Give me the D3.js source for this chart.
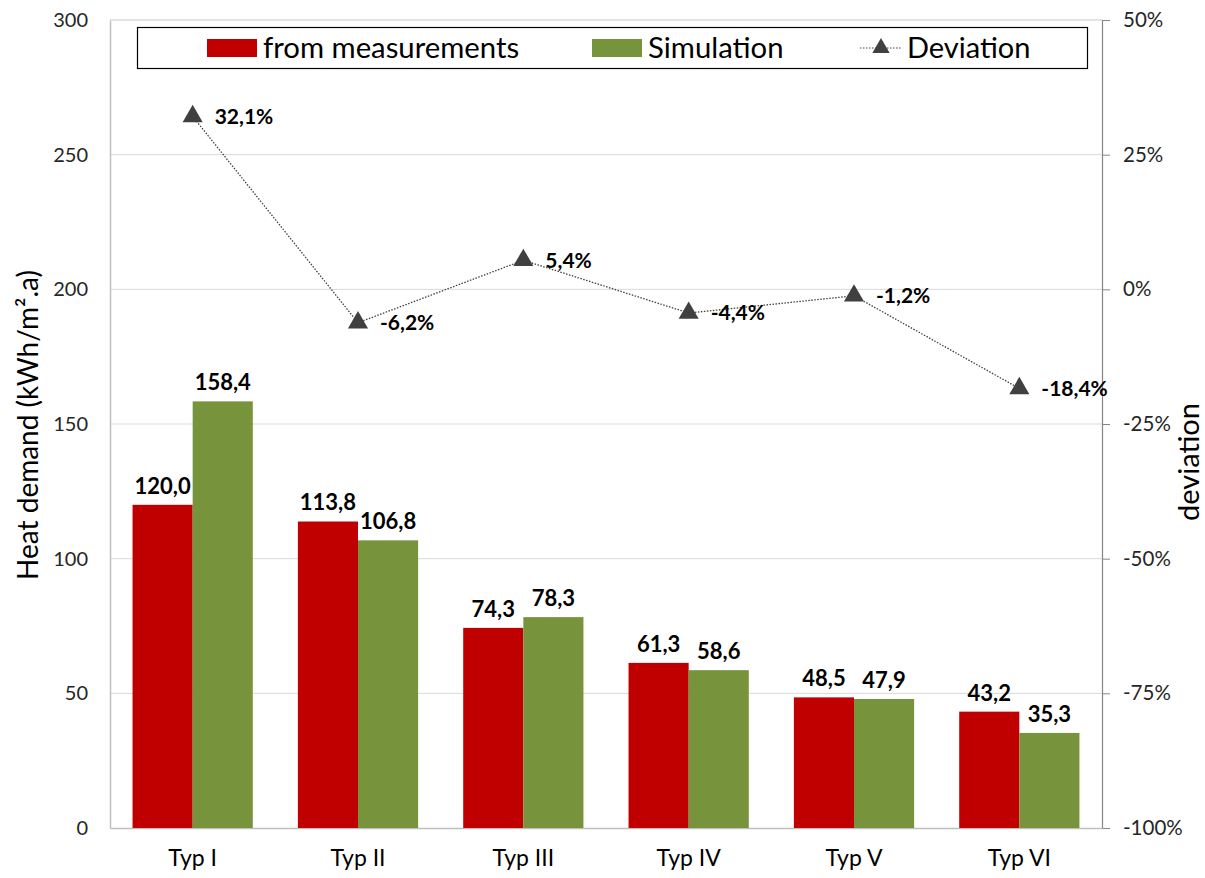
<!DOCTYPE html>
<html>
<head>
<meta charset="utf-8">
<script src="https://cdn.jsdelivr.net/npm/d3@7"></script>
<style>
  html, body { margin: 0; padding: 0; background: #fff; }
  svg { display: block; font-family: Lato, "Open Sans", sans-serif; }
</style>
</head>
<body>
<svg id="chart" width="1205" height="878"></svg>
<script>
// Heat demand per building type: measured vs. simulated, plus relative deviation
const categories = ["Typ I", "Typ II", "Typ III", "Typ IV", "Typ V", "Typ VI"];
const measured   = [120.0, 113.8, 74.3, 61.3, 48.5, 43.2];
const simulated  = [158.4, 106.8, 78.3, 58.6, 47.9, 35.3];
const deviation  = [32.1, -6.2, 5.4, -4.4, -1.2, -18.4];   // percent
const leftTicks  = [0, 50, 100, 150, 200, 250, 300];
const rightTicks = [-100, -75, -50, -25, 0, 25, 50];
const seriesNames = ["from measurements", "Simulation"];
const seriesColors = ["#C00000", "#77933C"];

const FONT = 'Lato, "Open Sans", sans-serif';
const plot = { left: 110, right: 1102, top: 20, bottom: 828 };

const svg = d3.select("#chart");

const locale = d3.formatLocale({ decimal: ",", thousands: ".", grouping: [3], currency: ["", "€"], minus: "-" });
const fmt1 = locale.format(".1f");

const x0 = d3.scaleBand().domain(categories).range([plot.left, plot.right]).padding(0);
const x1 = d3.scaleBand().domain(seriesNames).range([0, x0.bandwidth()])
  .paddingInner(0).paddingOuter(0.375);
const y = d3.scaleLinear().domain([0, 300]).range([plot.bottom, plot.top]);
const yR = d3.scaleLinear().domain([-100, 50]).range([plot.bottom, plot.top]);

// gridlines
svg.append("g")
  .selectAll("line")
  .data(leftTicks.filter(t => t > 0))
  .join("line")
  .attr("x1", plot.left).attr("x2", plot.right)
  .attr("y1", d => y(d)).attr("y2", d => y(d))
  .attr("stroke", "#d9d9d9").attr("stroke-width", 1);

// left axis
const gL = svg.append("g").attr("transform", `translate(${plot.left},0)`)
  .call(d3.axisLeft(y).tickValues(leftTicks).tickSize(0).tickPadding(22))
  .attr("font-family", FONT);
gL.select(".domain").attr("stroke", "#bfbfbf").attr("stroke-width", 1.5);
gL.selectAll("text").attr("font-size", 20).attr("fill", "#262626");

// right axis
const gR = svg.append("g").attr("transform", `translate(${plot.right},0)`)
  .call(d3.axisRight(yR).tickValues(rightTicks).tickSize(8).tickPadding(13).tickFormat(d => d + "%"))
  .attr("font-family", FONT);
gR.select(".domain").attr("stroke", "#868686").attr("stroke-width", 1.2);
gR.selectAll(".tick line").attr("stroke", "#868686");
gR.selectAll("text").attr("font-size", 20.5).attr("fill", "#262626");

// bottom axis
const gB = svg.append("g").attr("transform", `translate(0,${plot.bottom})`)
  .call(d3.axisBottom(x0).tickSize(0).tickPadding(22))
  .attr("font-family", FONT);
gB.select(".domain").attr("stroke", "#bfbfbf").attr("stroke-width", 1.5);
gB.selectAll("text").attr("font-size", 23).attr("fill", "#000");

// top border of the plot area
svg.append("line")
  .attr("x1", plot.left).attr("x2", plot.right)
  .attr("y1", plot.top).attr("y2", plot.top)
  .attr("stroke", "#d9d9d9");

// bars
const rows = categories.map((c, i) => ({ cat: c, vals: [measured[i], simulated[i]] }));
const groups = svg.append("g").selectAll("g")
  .data(rows).join("g")
  .attr("transform", d => `translate(${x0(d.cat)},0)`);

groups.selectAll("rect")
  .data(d => d.vals.map((v, k) => ({ name: seriesNames[k], v, k })))
  .join("rect")
  .attr("x", d => x1(d.name))
  .attr("width", x1.bandwidth())
  .attr("y", d => y(d.v))
  .attr("height", d => y(0) - y(d.v))
  .attr("fill", d => seriesColors[d.k]);

groups.selectAll("text")
  .data(d => d.vals.map((v, k) => ({ name: seriesNames[k], v, k })))
  .join("text")
  .attr("x", d => x1(d.name) + x1.bandwidth() / 2)
  .attr("y", d => y(d.v) - 11)
  .attr("text-anchor", "middle")
  .attr("font-size", 22).attr("font-weight", "bold").attr("fill", "#000")
  .text(d => fmt1(d.v));

// deviation line
const pts = categories.map((c, i) => [x0(c) + x0.bandwidth() / 2, yR(deviation[i])]);
svg.append("path")
  .attr("d", d3.line()(pts))
  .attr("fill", "none")
  .attr("stroke", "#404040")
  .attr("stroke-width", 1.3)
  .attr("stroke-dasharray", "1.5,1.5");

const tri = d3.symbol(d3.symbolTriangle, 175);
svg.append("g").selectAll("path")
  .data(pts).join("path")
  .attr("transform", d => `translate(${d[0]},${d[1]})`)
  .attr("d", tri)
  .attr("fill", "#404040");

svg.append("g").selectAll("text")
  .data(categories.map((c, i) => ({ p: pts[i], v: deviation[i] })))
  .join("text")
  .attr("x", d => d.p[0] + 22)
  .attr("y", d => d.p[1])
  .attr("dy", "0.35em")
  .attr("font-size", 21).attr("font-weight", "bold").attr("fill", "#000")
  .text(d => fmt1(d.v) + "%");

// axis titles
svg.append("text")
  .attr("transform", `translate(38,425) rotate(-90)`)
  .attr("text-anchor", "middle")
  .attr("font-size", 28).attr("fill", "#000")
  .text("Heat demand (kWh/m².a)");

svg.append("text")
  .attr("transform", `translate(1199,462) rotate(-90)`)
  .attr("text-anchor", "middle")
  .attr("font-size", 29).attr("fill", "#000")
  .text("deviation");

// legend
const lg = svg.append("g");
lg.append("rect")
  .attr("x", 137.5).attr("y", 27.5).attr("width", 950).attr("height", 41)
  .attr("fill", "#fff").attr("stroke", "#000").attr("stroke-width", 1.2);

const legendItems = [
  { label: seriesNames[0], type: "bar", color: seriesColors[0], x: 207 },
  { label: seriesNames[1], type: "bar", color: seriesColors[1], x: 592 },
  { label: "Deviation", type: "line", color: "#404040", x: 860 }
];
legendItems.forEach(it => {
  const g = lg.append("g").attr("transform", `translate(${it.x},48)`);
  if (it.type === "bar") {
    g.append("rect").attr("x", 0).attr("y", -9).attr("width", 50).attr("height", 18).attr("fill", it.color);
    g.append("text").attr("x", 56).attr("dy", "0.35em").attr("font-size", 29.3).text(it.label);
  } else {
    g.append("line").attr("x1", 0).attr("x2", 42).attr("y1", 0).attr("y2", 0)
      .attr("stroke", it.color).attr("stroke-width", 1.2).attr("stroke-dasharray", "1.5,1.5");
    g.append("path").attr("transform", "translate(21,0)").attr("d", d3.symbol(d3.symbolTriangle, 130)).attr("fill", it.color);
    g.append("text").attr("x", 47).attr("dy", "0.35em").attr("font-size", 29).text(it.label);
  }
});
</script>
</body>
</html>
